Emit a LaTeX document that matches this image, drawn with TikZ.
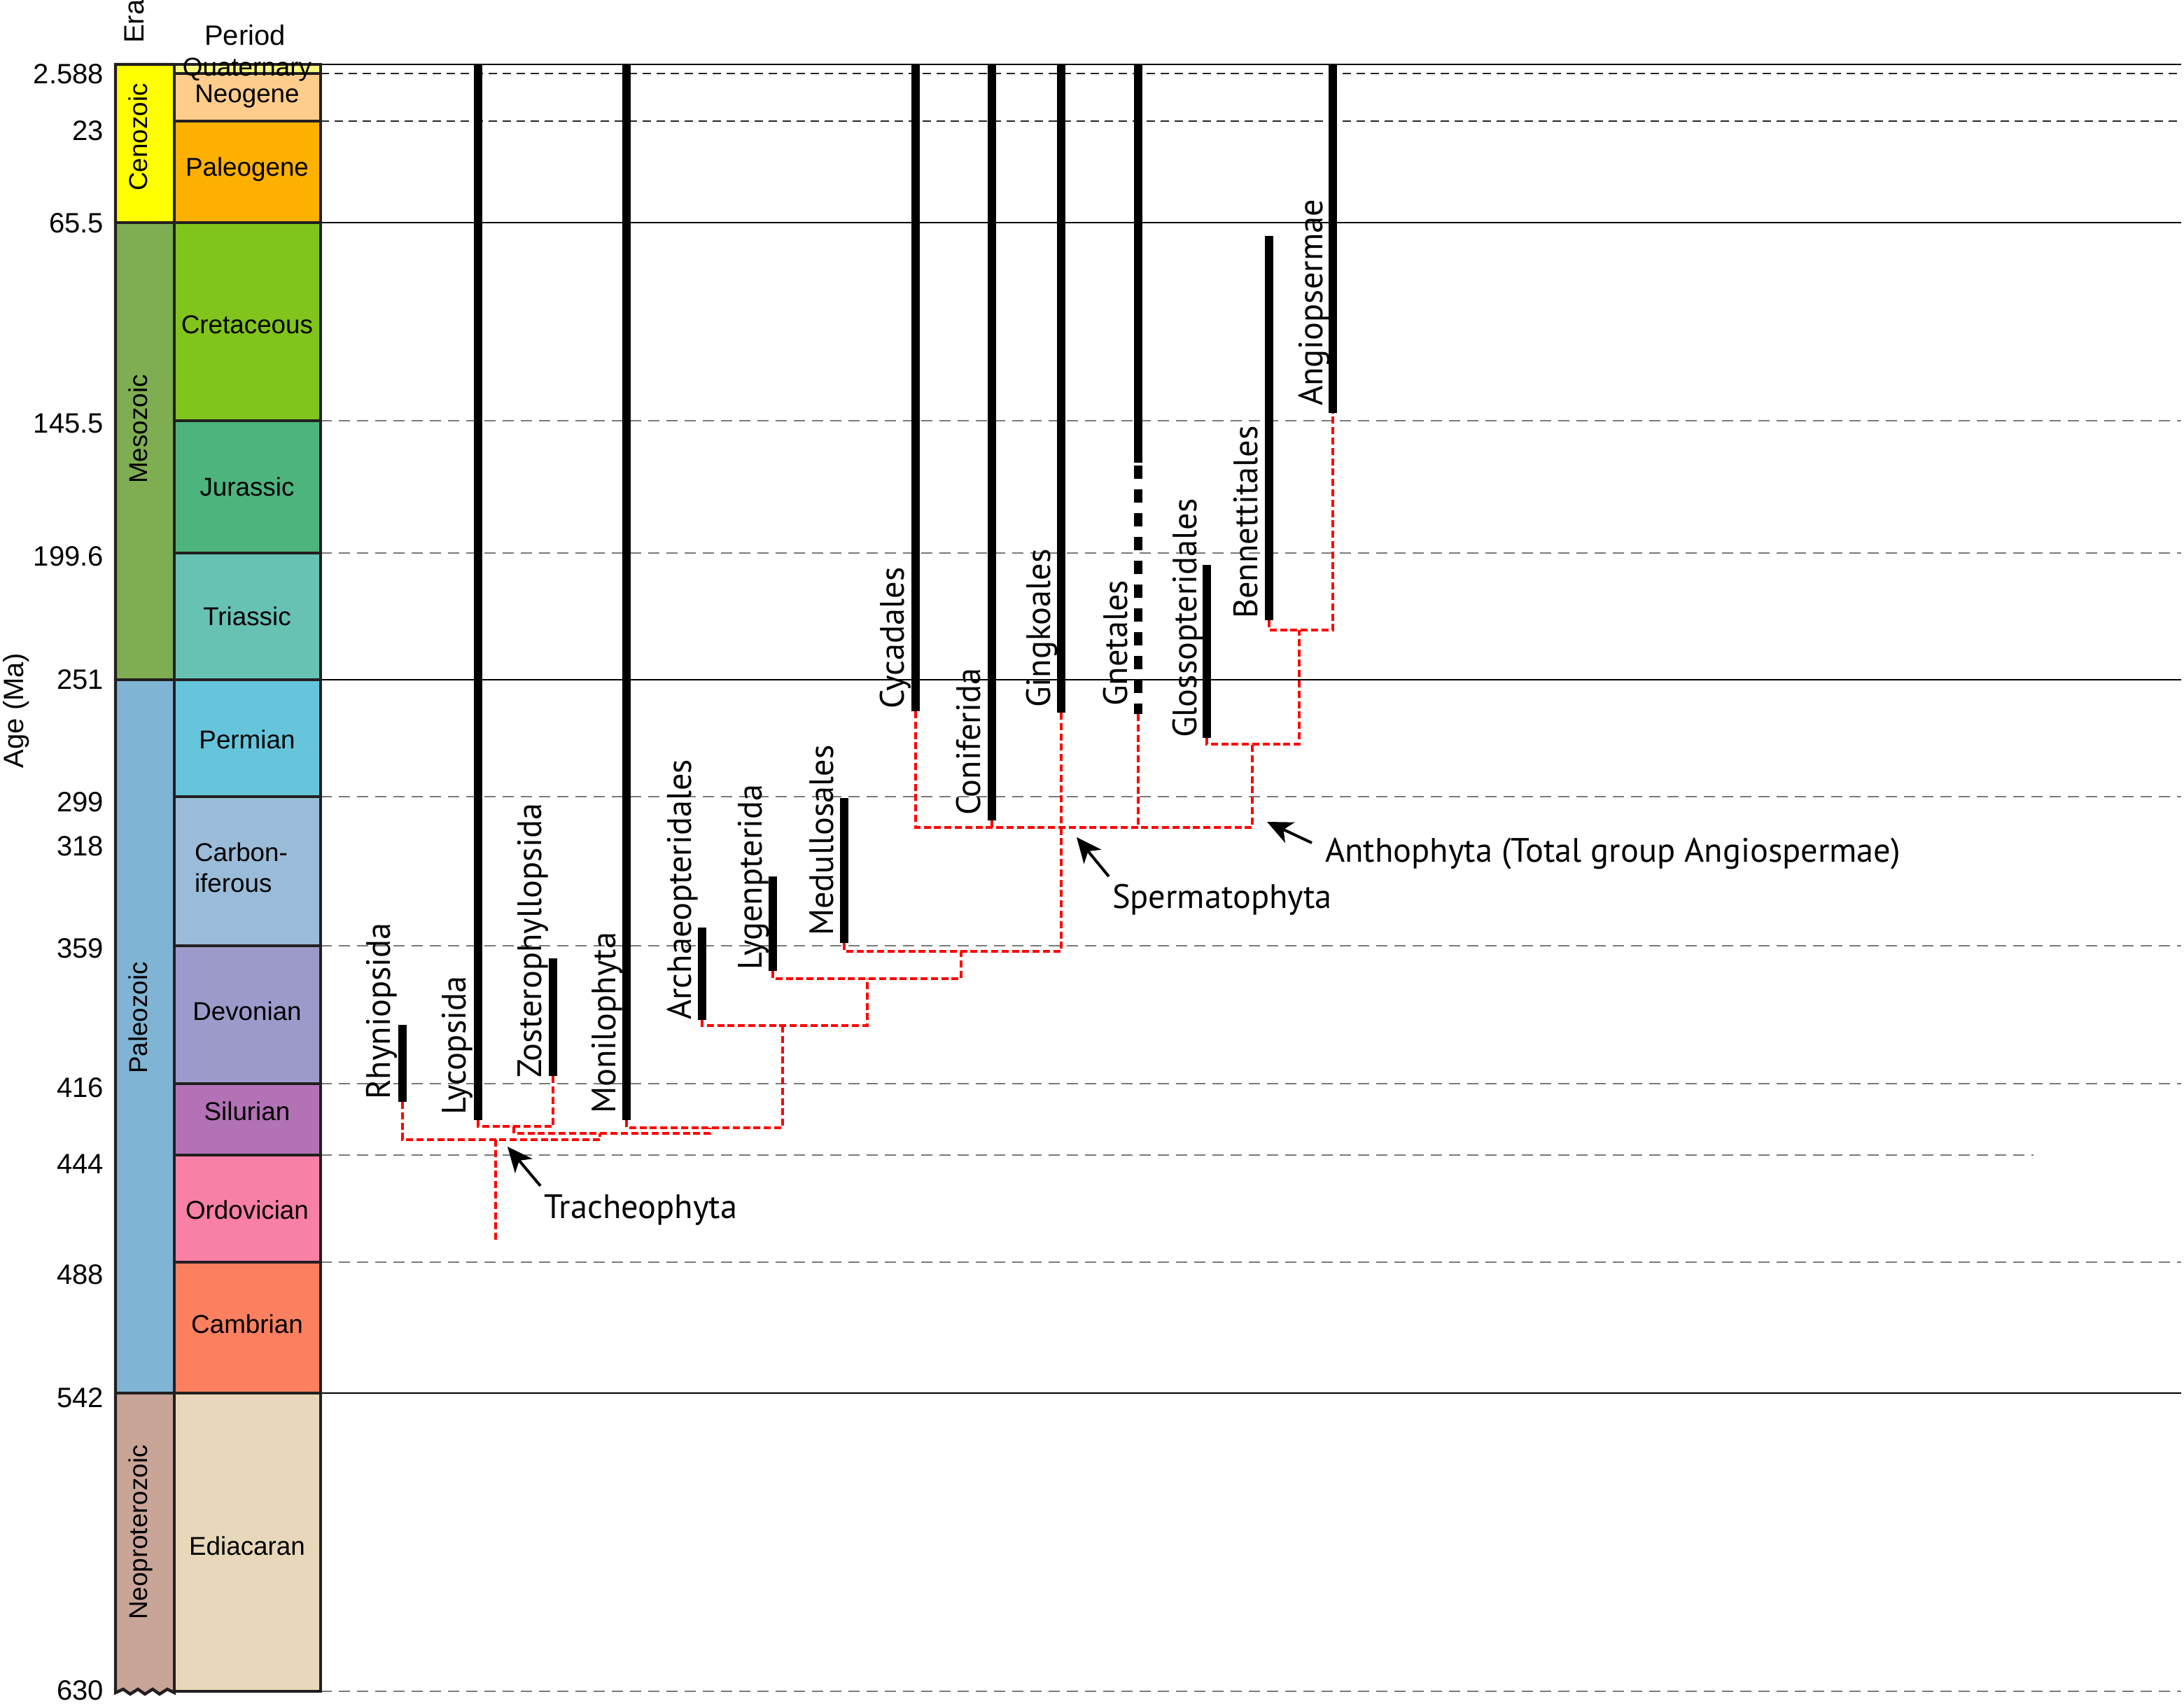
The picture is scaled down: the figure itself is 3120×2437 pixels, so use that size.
\documentclass[tikz,border=0pt]{standalone}
\usepackage{fontspec}
\setmainfont{Liberation Sans}
\newfontfamily\cladefont{PT Sans}
\usetikzlibrary{arrows.meta}
\definecolor{boxc}{HTML}{231F20}
\definecolor{refgray}{HTML}{7A7A7A}
\definecolor{cCeno}{HTML}{FFFF00}
\definecolor{cMeso}{HTML}{7FAE52}
\definecolor{cPaleo}{HTML}{80B4D4}
\definecolor{cNeopro}{HTML}{C9A597}
\definecolor{cQuat}{HTML}{F9F97F}
\definecolor{cNeog}{HTML}{FECD8B}
\definecolor{cPaleog}{HTML}{FDB000}
\definecolor{cCret}{HTML}{80C41C}
\definecolor{cJur}{HTML}{4DB47E}
\definecolor{cTri}{HTML}{67C2B4}
\definecolor{cPerm}{HTML}{66C5DB}
\definecolor{cCarb}{HTML}{9ABCD9}
\definecolor{cDev}{HTML}{9C9ACA}
\definecolor{cSil}{HTML}{B272B5}
\definecolor{cOrd}{HTML}{F880A6}
\definecolor{cCamb}{HTML}{FB8060}
\definecolor{cEdi}{HTML}{E8D7BA}
\begin{document}
\begin{tikzpicture}[x=0.25pt,y=-0.25pt,
  txt/.style={inner sep=0pt, outer sep=0pt},
  num/.style={txt, anchor=base east, font=\fontsize{10}{12}\selectfont},
  per/.style={txt, anchor=base, font=\fontsize{9.2}{11}\selectfont},
  perl/.style={txt, anchor=base west, font=\fontsize{9.2}{11}\selectfont},
  eralbl/.style={txt, anchor=base, rotate=90, font=\fontsize{9.2}{11}\selectfont},
  head/.style={txt, font=\fontsize{10}{12}\selectfont},
  clade/.style={txt, anchor=base west, rotate=90, font=\cladefont\fontsize{12.1}{14}\selectfont},
  callabel/.style={txt, anchor=base west, font=\cladefont\fontsize{12.1}{14}\selectfont},
  boxline/.style={draw=boxc, line width=1.1pt},
  refsolid/.style={line width=0.5pt, draw=black},
  refdash/.style={line width=0.6pt, draw=refgray, dash pattern=on 4pt off 2.5pt},
  topdash/.style={line width=0.55pt, draw=black!85, dash pattern=on 3pt off 2pt},
  bar/.style={line width=3.1pt, draw=black},
  tree/.style={draw=red, line width=0.9pt, dash pattern=on 2.5pt off 1.2pt},
  callout/.style={draw=black, line width=1pt, -{Stealth[length=9pt,width=8pt,inset=2.5pt]}}
]
\useasboundingbox (0,0) rectangle (3120,2437);

% ---------- reference lines ----------
\draw[refsolid, line width=0.6pt] (458,92) -- (3116,92);
\draw[topdash] (458,105) -- (3116,105);
\draw[topdash] (458,173) -- (3116,173);
\draw[refsolid] (458,318) -- (3116,318);
\draw[refdash] (458,601) -- (3116,601);
\draw[refdash] (458,790) -- (3116,790);
\draw[refsolid] (458,971) -- (3116,971);
\draw[refdash] (458,1138) -- (3116,1138);
\draw[refdash] (458,1351) -- (3116,1351);
\draw[refdash] (458,1548) -- (3116,1548);
\draw[refdash] (458,1650) -- (2905,1650);
\draw[refdash] (458,1803) -- (3116,1803);
\draw[refsolid] (458,1990) -- (3116,1990);
\draw[refdash] (458,2416) -- (3116,2416);

% ---------- time scale column ----------
\fill[cCeno] (165,92) rectangle (249,318);
\fill[cMeso] (165,318) rectangle (249,971);
\fill[cPaleo] (165,971) rectangle (249,1990);
\fill[cNeopro] (165,1990) -- (165,2418) -- (176,2413) -- (186,2420) -- (197,2413) -- (207,2420) -- (218,2413) -- (228,2420) -- (239,2413) -- (249,2418) -- (249,1990) -- cycle;
\fill[cQuat] (249,92) rectangle (458,105);
\fill[cNeog] (249,105) rectangle (458,173);
\fill[cPaleog] (249,173) rectangle (458,318);
\fill[cCret] (249,318) rectangle (458,601);
\fill[cJur] (249,601) rectangle (458,790);
\fill[cTri] (249,790) rectangle (458,971);
\fill[cPerm] (249,971) rectangle (458,1138);
\fill[cCarb] (249,1138) rectangle (458,1351);
\fill[cDev] (249,1351) rectangle (458,1548);
\fill[cSil] (249,1548) rectangle (458,1650);
\fill[cOrd] (249,1650) rectangle (458,1803);
\fill[cCamb] (249,1803) rectangle (458,1990);
\fill[cEdi] (249,1990) rectangle (458,2416);

\draw[boxline] (249,92) rectangle (458,2416);
\draw[boxline] (249,92) -- (165,92) -- (165,2418) -- (176,2413) -- (186,2420) -- (197,2413) -- (207,2420) -- (218,2413) -- (228,2420) -- (239,2413) -- (249,2418) -- (249,2416);
\foreach \yy in {318,971,1990} \draw[boxline] (165,\yy) -- (249,\yy);
\foreach \yy in {105,173,318,601,790,971,1138,1351,1548,1650,1803,1990} \draw[boxline] (249,\yy) -- (458,\yy);

% ---------- headers ----------
\node[head, anchor=base west, rotate=90] (hEra) at (205,62) {Era};
\node[head, anchor=base] (hPer) at (350,65) {Period};
\node[head, anchor=base, rotate=90] (hAge) at (34,1015) {Age (Ma)};

% ---------- ages ----------
\node[num] (a1) at (148,120) {2.588};
\node[num] (a2) at (148,201) {23};
\node[num] (a3) at (148,333) {65.5};
\node[num] (a4) at (148,619) {145.5};
\node[num] (a5) at (148,809) {199.6};
\node[num] (a6) at (148,985) {251};
\node[num] (a7) at (148,1160) {299};
\node[num] (a8) at (148,1223) {318};
\node[num] (a9) at (148,1369) {359};
\node[num] (a10) at (148,1568) {416};
\node[num] (a11) at (148,1677) {444};
\node[num] (a12) at (148,1835) {488};
\node[num] (a13) at (148,2011) {542};
\node[num] (a14) at (148,2428) {630};

% ---------- eras ----------
\node[eralbl] (eCeno) at (210,196) {Cenozoic};
\node[eralbl] (eMeso) at (210,613) {Mesozoic};
\node[eralbl] (ePaleo) at (210,1454) {Paleozoic};
\node[eralbl] (eNeo) at (210,2189) {Neoproterozoic};

% ---------- periods ----------
\node[per] (pQua) at (353,109) {Quaternary};
\node[per] (pNeo) at (353,147) {Neogene};
\node[per] (pPal) at (353,252) {Paleogene};
\node[per] (pCre) at (353,477) {Cretaceous};
\node[per] (pJur) at (353,709) {Jurassic};
\node[per] (pTri) at (353,894) {Triassic};
\node[per] (pPer) at (353,1070) {Permian};
\node[perl] (pCar1) at (278,1231) {Carbon-};
\node[perl] (pCar2) at (278,1275) {iferous};
\node[per] (pDev) at (353,1458) {Devonian};
\node[per] (pSil) at (353,1601) {Silurian};
\node[per] (pOrd) at (353,1742) {Ordovician};
\node[per] (pCam) at (353,1905) {Cambrian};
\node[per] (pEdi) at (353,2221) {Ediacaran};

% ---------- bar end points ----------
\coordinate (rhyT) at (575,1464);  \coordinate (rhyB) at (575,1574);
\coordinate (lycT) at (683,92);    \coordinate (lycB) at (683,1600);
\coordinate (zosT) at (790,1369);  \coordinate (zosB) at (790,1537);
\coordinate (monT) at (895,92);    \coordinate (monB) at (895,1600);
\coordinate (arcT) at (1003,1325); \coordinate (arcB) at (1003,1457);
\coordinate (lygT) at (1104,1252); \coordinate (lygB) at (1104,1387);
\coordinate (medT) at (1206,1140); \coordinate (medB) at (1206,1347);
\coordinate (cycT) at (1308,92);   \coordinate (cycB) at (1308,1016);
\coordinate (conT) at (1417,92);   \coordinate (conB) at (1417,1172);
\coordinate (ginT) at (1516,92);   \coordinate (ginB) at (1516,1018);
\coordinate (gneT) at (1626,92);   \coordinate (gneM) at (1626,661);
\coordinate (gneD) at (1626,665);  \coordinate (gneB) at (1626,1020);
\coordinate (gloT) at (1724,807);  \coordinate (gloB) at (1724,1054);
\coordinate (benT) at (1813,337);  \coordinate (benB) at (1813,886);
\coordinate (angT) at (1904,92);   \coordinate (angB) at (1904,590);

% ---------- internal tree nodes ----------
\coordinate (nTr)  at (708,1628);
\coordinate (root) at (708,1774);
\coordinate (nA)   at (857,1619);
\coordinate (nLZ)  at (734,1609);
\coordinate (nEu)  at (1014,1611);
\coordinate (nLig) at (1118,1465);
\coordinate (nLy)  at (1239,1398);
\coordinate (nMed) at (1373,1359);
\coordinate (nSp)  at (1516,1182);
\coordinate (nAn)  at (1789,1063);
\coordinate (nBA)  at (1856,900);

% ---------- tree (red dashed) ----------
\draw[tree] (nTr) -- (root);
\draw[tree] (rhyB) |- (nTr) -| (nA);
\draw[tree] (nLZ) |- (nA) -| (nEu);
\draw[tree] (lycB) |- (nLZ) -| (zosB);
\draw[tree] (monB) |- (nEu) -| (nLig);
\draw[tree] (arcB) |- (nLig) -| (nLy);
\draw[tree] (lygB) |- (nLy) -| (nMed);
\draw[tree] (medB) |- (nMed) -| (nSp);
\draw[tree] (cycB) |- (nSp) -| (nAn);
\draw[tree] (ginB) -- (nSp);
\draw[tree] (conB) -- (conB |- nSp);
\draw[tree] (gneB) -- (gneB |- nSp);
\draw[tree] (gloB) |- (nAn) -| (nBA);
\draw[tree] (benB) |- (nBA) -| (angB);

% ---------- stratigraphic range bars ----------
\draw[bar] (rhyT) -- (rhyB);
\draw[bar] (lycT) -- (lycB);
\draw[bar] (zosT) -- (zosB);
\draw[bar] (monT) -- (monB);
\draw[bar] (arcT) -- (arcB);
\draw[bar] (lygT) -- (lygB);
\draw[bar] (medT) -- (medB);
\draw[bar] (cycT) -- (cycB);
\draw[bar] (conT) -- (conB);
\draw[bar] (ginT) -- (ginB);
\draw[bar] (gneT) -- (gneM);
\draw[bar, dash pattern=on 4.75pt off 3.75pt] (gneD) -- (gneB);
\draw[bar] (gloT) -- (gloB);
\draw[bar] (benT) -- (benB);
\draw[bar] (angT) -- (angB);

% ---------- taxon labels ----------
\node[clade] (lRhy) at (557,1571) {Rhyniopsida};
\node[clade] (lLyc) at (665,1593) {Lycopsida};
\node[clade] (lZos) at (773,1540) {Zosterophyllopsida};
\node[clade] (lMon) at (879,1591) {Monilophyta};
\node[clade] (lArc) at (987,1457) {Archaeopteridales};
\node[clade] (lLyg) at (1088,1386) {Lygenpterida};
\node[clade] (lMed) at (1190,1337) {Medullosales};
\node[clade] (lCyc) at (1291,1013) {Cycadales};
\node[clade] (lCon) at (1400,1165) {Coniferida};
\node[clade] (lGin) at (1500,1011) {Gingkoales};
\node[clade] (lGne) at (1610,1009) {Gnetales};
\node[clade] (lGlo) at (1709,1054) {Glossopteridales};
\node[clade] (lBen) at (1796,884) {Bennettitales};
\node[clade] (lAng) at (1889,580) {Angiopsermae};

% ---------- callouts ----------
\node[callabel] (tTrach) at (777,1741) {Tracheophyta};
\node[callabel] (tSperm) at (1589,1298) {Spermatophyta};
\node[callabel] (tAnth) at (1893,1232) {Anthophyta (Total group Angiospermae)};
\coordinate (trTail) at (772,1694); \coordinate (trTip) at (725,1638);
\coordinate (spTail) at (1584,1252); \coordinate (spTip) at (1538,1196);
\coordinate (anTail) at (1874,1204); \coordinate (anTip) at (1810,1174);
\draw[callout] (trTail) -- (trTip);
\draw[callout] (spTail) -- (spTip);
\draw[callout] (anTail) -- (anTip);
\end{tikzpicture}
\end{document}
